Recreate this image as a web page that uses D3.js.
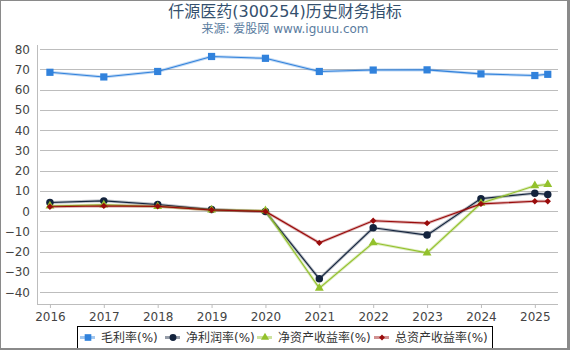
<!DOCTYPE html>
<html>
<head>
<meta charset="utf-8">
<script src="https://cdn.jsdelivr.net/npm/d3@7"></script>
<style>
  body { margin: 0; background: #fff; }
  svg { display: block; font-family: "DejaVu Sans", "Noto Sans CJK SC", sans-serif; }
</style>
</head>
<body>
<svg id="chart"></svg>
<script>
// 数据
const years = [2016, 2017, 2018, 2019, 2020, 2021, 2022, 2023, 2024, 2025, 2025.24];
const xTicks = [2016, 2017, 2018, 2019, 2020, 2021, 2022, 2023, 2024, 2025];
const yTicks = [80, 70, 60, 50, 40, 30, 20, 10, 0, -10, -20, -30, -40];
const grossMargin = [68.6, 66.3, 69.0, 76.4, 75.5, 69.0, 69.7, 69.8, 67.8, 67.0, 67.6];
const netMargin = [4.3, 5.1, 3.3, 0.8, -0.2, -33.4, -8.2, -11.8, 6.2, 8.9, 8.3];
const roe = [2.6, 3.1, 2.3, 0.6, 0.3, -38.0, -15.6, -20.6, 3.9, 12.6, 13.2];
const roa = [2.2, 2.6, 2.4, 0.6, -0.1, -15.6, -4.7, -5.9, 3.6, 4.9, 4.9];

const seriesNames = ["毛利率(%)", "净利润率(%)", "净资产收益率(%)", "总资产收益率(%)"];
const seriesValues = [grossMargin, netMargin, roe, roa];
const colors = ["#3182dc", "#13233d", "#93c12c", "#990b0b"];
const symbols = [d3.symbolSquare, d3.symbolCircle, d3.symbolTriangle, d3.symbolSquare];
const symbolSizes = [52, 44, 34, 20];
const symbolRotate = [0, 0, 0, 45];

const width = 570, height = 350;
const plot = { left: 37, right: 558, top: 45, bottom: 304 };

const svg = d3.select("#chart").attr("width", width).attr("height", height);

const x = d3.scaleLinear().domain([2015.76, 2025.43]).range([plot.left, plot.right]);
const y = d3.scaleLinear().domain([-40, 80]).range([292.2, 49.2]);

// 标题
svg.append("text")
  .attr("x", 285).attr("y", 17)
  .attr("text-anchor", "middle")
  .style("font-size", "16px")
  .style("fill", "#34506e")
  .text("仟源医药(300254)历史财务指标");
svg.append("text")
  .attr("x", 285).attr("y", 32.5)
  .attr("text-anchor", "middle")
  .style("font-size", "12px")
  .style("fill", "#5a7ca0")
  .text("来源: 爱股网 www.iguuu.com");

// 网格线
svg.append("g")
  .selectAll("line")
  .data(yTicks)
  .join("line")
  .attr("x1", 40).attr("x2", plot.right)
  .attr("y1", d => Math.round(y(d)) + 0.5)
  .attr("y2", d => Math.round(y(d)) + 0.5)
  .attr("stroke", "#bdbdbd");

// y 轴
const yAxis = svg.append("g")
  .attr("transform", `translate(${plot.left},0)`)
  .call(d3.axisLeft(y).tickValues(yTicks).tickSize(0).tickPadding(7));
yAxis.select(".domain").attr("stroke", "#bdbdbd").attr("d", `M0.5,${plot.top}V${plot.bottom}`);
yAxis.selectAll("text").style("font-size", "12px").style("fill", "#444").style("font-family", "DejaVu Sans");

// x 轴
const xAxis = svg.append("g")
  .attr("transform", `translate(0,${plot.bottom})`)
  .call(d3.axisBottom(x).tickValues(xTicks).tickFormat(d3.format("d")).tickSize(4).tickPadding(4));
xAxis.select(".domain").attr("stroke", "#bdbdbd").attr("d", `M${plot.left},0.5H${plot.right}`);
xAxis.selectAll(".tick line").attr("stroke", "#bdbdbd");
xAxis.selectAll("text").style("font-size", "12px").style("fill", "#444").style("font-family", "DejaVu Sans");

// 折线与标记
const line = d3.line().x((d, i) => x(years[i])).y(d => y(d));
seriesValues.forEach((vals, s) => {
  const g = svg.append("g");
  g.append("path")
    .datum(vals)
    .attr("d", line)
    .attr("fill", "none")
    .attr("stroke", colors[s])
    .attr("stroke-opacity", 0.3)
    .attr("stroke-width", 3);
  g.append("path")
    .datum(vals)
    .attr("d", line)
    .attr("fill", "none")
    .attr("stroke", colors[s])
    .attr("stroke-width", 1.1);
  g.selectAll("path.marker")
    .data(vals)
    .join("path")
    .attr("class", "marker")
    .attr("transform", (d, i) => `translate(${x(years[i])},${y(d)}) rotate(${symbolRotate[s]})`)
    .attr("d", d3.symbol().type(symbols[s]).size(symbolSizes[s]))
    .attr("fill", colors[s]);
});

// 图例
const legend = svg.append("g");
legend.append("rect")
  .attr("x", 77.5).attr("y", 326.5)
  .attr("width", 415).attr("height", 22)
  .attr("fill", "#fff").attr("stroke", "#000");
const legendX = [80, 165, 257, 374];
seriesNames.forEach((name, s) => {
  const item = legend.append("g").attr("transform", `translate(${legendX[s]},337.5)`);
  item.append("line")
    .attr("x1", 0).attr("x2", 15)
    .attr("stroke", colors[s]).attr("stroke-opacity", 0.45).attr("stroke-width", 3);
  item.append("path")
    .attr("transform", `translate(8,0) rotate(${symbolRotate[s]})`)
    .attr("d", d3.symbol().type(symbols[s]).size(symbolSizes[s] * 0.85))
    .attr("fill", colors[s]);
  item.append("text")
    .attr("x", 21).attr("y", 4.5)
    .style("font-size", "12px")
    .style("fill", "#333")
    .text(name);
});

// 外框
svg.append("line").attr("x1", 0.5).attr("x2", 0.5).attr("y1", 0).attr("y2", height).attr("stroke", "#8a8a8a");
svg.append("line").attr("x1", 0).attr("x2", width).attr("y1", 0.5).attr("y2", 0.5).attr("stroke", "#8a8a8a");
svg.append("rect").attr("x", 567).attr("y", 0).attr("width", 3).attr("height", height).attr("fill", "#8a8a8a");
svg.append("rect").attr("x", 0).attr("y", 348).attr("width", width).attr("height", 2).attr("fill", "#8a8a8a");
</script>
</body>
</html>
